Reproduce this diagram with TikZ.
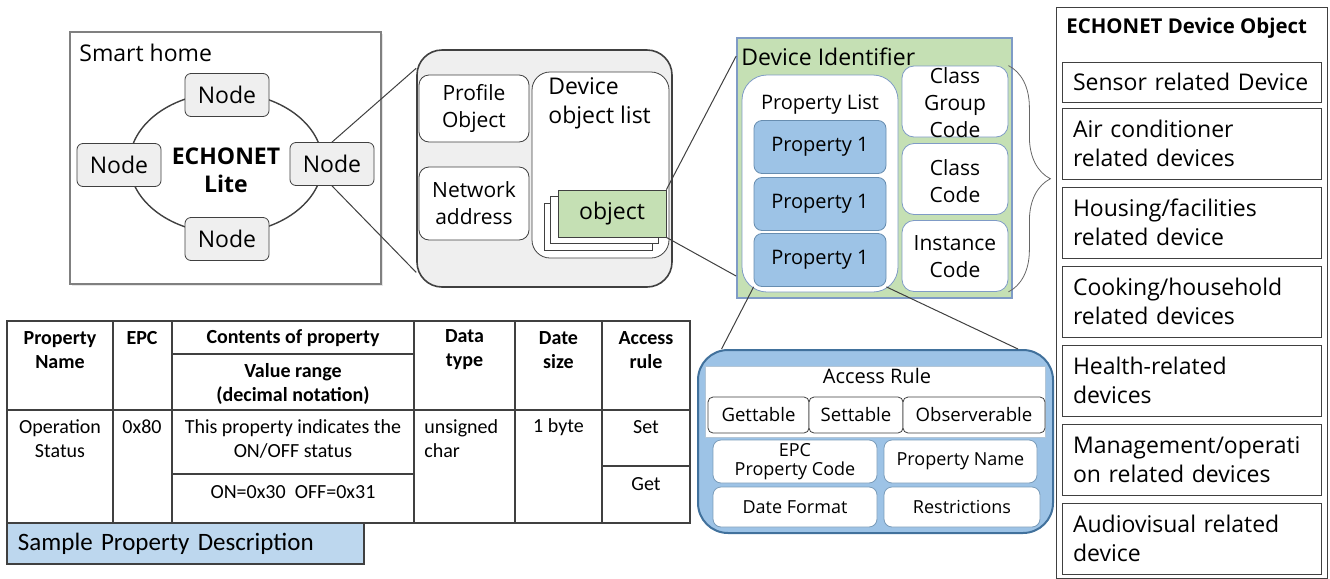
\documentclass[tikz,border=0pt]{standalone}
\usepackage{fontspec}
\setmainfont{Open Sans}
\newfontfamily\tabfont{Carlito}
\usepackage{tikz}
\usetikzlibrary{shapes.geometric}
\usetikzlibrary{decorations.pathreplacing}
\usetikzlibrary{shadows}

\definecolor{boxgray}{HTML}{EFEFEF}
\definecolor{linegray}{HTML}{404040}
\definecolor{leafgreen}{HTML}{C5E0B4}
\definecolor{skyblue}{HTML}{9DC3E6}
\definecolor{paleblue}{HTML}{BDD7EE}
\definecolor{deepblue}{HTML}{41719C}
\definecolor{slateblue}{HTML}{7F9BC6}

\tikzset{hub/.style={rectangle,rounded corners=3pt,draw=linegray,fill=boxgray,minimum width=42pt,minimum height=21.5pt,font=\fontsize{11.5}{14}\selectfont}}
\tikzset{obox/.style={rectangle,rounded corners=5pt,draw=linegray,fill=white,align=center,font=\fontsize{10.5}{13.5}\selectfont}}
\tikzset{sheet/.style={rectangle,draw=linegray,fill=white,minimum width=54pt,minimum height=23.5pt,font=\fontsize{11.5}{14}\selectfont}}
\tikzset{propbox/.style={rectangle,rounded corners=4pt,draw=deepblue!80,fill=skyblue,minimum width=66pt,minimum height=26.5pt,font=\fontsize{10}{12}\selectfont}}
\tikzset{codebox/.style={rectangle,rounded corners=6pt,draw=slateblue,fill=white,minimum width=53pt,minimum height=35.5pt}}
\tikzset{codetext/.style={align=center,inner sep=0pt,font=\fontsize{10.5}{13.5}\selectfont}}
\tikzset{flag/.style={rectangle,rounded corners=2.5pt,draw=linegray,fill=white,minimum height=18pt,font=\fontsize{9.3}{11}\selectfont}}
\tikzset{field/.style={rectangle,rounded corners=4pt,draw=deepblue!70,fill=white,inner ysep=1pt,align=center,font=\fontsize{9}{9.5}\selectfont}}
\tikzset{cat/.style={rectangle,draw=linegray,fill=white,text width=118.5pt,inner xsep=5.5pt,align=left,font=\fontsize{11.5}{14.5}\selectfont}}
\tikzset{tcell/.style={align=center,inner sep=0pt,font=\tabfont\fontsize{10}{12}\selectfont}}
\tikzset{thead/.style={tcell,font=\tabfont\bfseries\fontsize{10}{12}\selectfont}}
\tikzset{grid/.style={draw=linegray,line width=0.8pt}}
\tikzset{link/.style={draw=linegray,line width=0.5pt}}

\begin{document}
\begin{tikzpicture}[x=0.5pt,y=-0.5pt]
\useasboundingbox (0,0) rectangle (1330,579);

% smart home with its ring of nodes
\node[rectangle,draw=gray,line width=0.8pt,fill=white,minimum width=155.5pt,minimum height=126pt,drop shadow={opacity=0.2,shadow xshift=1pt,shadow yshift=-1pt}] (home) at (225.5,158) {};
\node[anchor=west,inner sep=0pt,font=\fontsize{11.5}{14}\selectfont] (homet) at (79,53) {Smart home};
\node[ellipse,draw=linegray,line width=0.7pt,minimum width=96.5pt,minimum height=70.5pt,inner sep=0pt] (ring) at (226,163) {};
\node[align=center,font=\bfseries\fontsize{11.5}{14}\selectfont] (core) at (226,170) {ECHONET\\Lite};

\node[hub] (nT) at (227,95) {Node};
\node[hub] (nL) at (119,165) {Node};
\node[hub] (nR) at (332,164) {Node};
\node[hub] (nB) at (227,239) {Node};

% node internals
\node[rectangle,rounded corners=12.5pt,draw=linegray,line width=0.8pt,fill=boxgray,minimum width=127.5pt,minimum height=118.5pt] (dev) at (544.5,168.5) {};
\node[obox,minimum width=55pt,minimum height=33.5pt] (prof) at (474,108.5) {Profile\\Object};
\node[obox,minimum width=55pt,minimum height=36.5pt] (net) at (474,203.5) {Network\\address};
\node[rectangle,rounded corners=9pt,draw=linegray,fill=white,minimum width=68.5pt,minimum height=93pt] (olist) at (600.5,165) {};
\node[anchor=north west,inner sep=0pt,align=left,font=\fontsize{11.5}{14.5}\selectfont] (olistt) at (548,77) {Device\\object list};

\node[sheet] (s3) at (598,226.5) {};
\node[sheet] (s2) at (604,220) {};
\node[sheet,fill=leafgreen] (obj) at (612,213.5) {object};

\draw[link] (nR.north) -- (dev.142);
\draw[link] (nR.south) -- (dev.219);

% device identifier
\node[rectangle,draw=slateblue,line width=0.8pt,fill=leafgreen,minimum width=137.5pt,minimum height=130pt] (devid) at (874.5,168) {};
\node[anchor=west,inner sep=0pt,font=\fontsize{11.5}{14}\selectfont] (devidt) at (741,57) {Device Identifier};
\node[rectangle,rounded corners=12.5pt,draw=slateblue,fill=white,minimum width=78pt,minimum height=108.5pt] (plist) at (820,183.5) {};
\node[inner sep=0pt,font=\fontsize{10}{12}\selectfont] (plistt) at (820,105) {Property List};

\node[propbox] (p1) at (820,147) {Property 1};
\node[propbox] (p2) at (820,204) {Property 1};
\node[propbox] (p3) at (820,260) {Property 1};

\node[codebox] (cgc) at (955,101.5) {};
\node[codetext] (cgct) at (955,103) {Class\\Group\\Code};
\node[codebox] (cc) at (955,179) {};
\node[codetext] (cct) at (955,181) {Class\\Code};
\node[codebox] (ic) at (955,256) {};
\node[codetext] (ict) at (955,257) {Instance\\Code};

\draw[decorate,decoration={brace,amplitude=21pt},draw=linegray!80] (cgc.north east) -- (ic.south east);

\draw[link] (obj.north east) -- (devid.141);
\draw[link] (obj.south east) -- (devid.218);

% property details
\node[rectangle,rounded corners=15pt,draw=deepblue,line width=1pt,fill=skyblue,minimum width=177.5pt,minimum height=91.5pt] (acc) at (875.5,441.5) {};
\node[rectangle,draw=deepblue!40,fill=white,minimum width=170pt,minimum height=35.5pt] (rule) at (875,401.5) {};
\node[inner sep=0pt,font=\fontsize{10}{12}\selectfont] (rulet) at (877,376) {Access Rule};
\node[flag,minimum width=50.5pt] (get) at (758.5,415) {Gettable};
\node[flag,minimum width=47pt] (set) at (856,415) {Settable};
\node[flag,minimum width=71pt] (obs) at (974,415) {Observerable};

\node[field,minimum width=82pt,minimum height=21.5pt] (epc) at (795,461.5) {EPC\\Property Code};
\node[field,minimum width=76.5pt,minimum height=21.5pt] (pname) at (960.5,461.5) {Property Name};
\node[field,minimum width=82pt,minimum height=20pt] (dfmt) at (795,507) {Date Format};
\node[field,minimum width=78pt,minimum height=20pt] (rest) at (962,507) {Restrictions};

\draw[link] (p3.south west) -- (acc.149);
\draw[link] (p3.south east) -- (acc.33);

% device object classes
\node[rectangle,draw=linegray,fill=white,minimum width=135.5pt,minimum height=285.5pt] (dobj) at (1191.5,292.5) {};
\node[anchor=west,inner sep=0pt,font=\bfseries\fontsize{10.2}{12}\selectfont] (dobjt) at (1066,28) {ECHONET Device Object};
\node[cat,minimum height=20pt] (sens) at (1191.5,82) {Sensor related Device};
\node[cat,minimum height=35.5pt] (air) at (1191.5,143.5) {Air conditioner\\related devices};
\node[cat,minimum height=35.5pt] (hous) at (1191.5,222.5) {Housing/facilities\\related device};
\node[cat,minimum height=35.5pt] (cook) at (1191.5,301.5) {Cooking/household\\related devices};
\node[cat,minimum height=35.5pt] (heal) at (1191.5,380.5) {Health-related\\devices};
\node[cat,minimum height=35.5pt] (mgmt) at (1191.5,459.5) {Management/operati\\on related devices};
\node[cat,minimum height=35.5pt] (av) at (1191.5,538.5) {Audiovisual related\\device};

% sample property table
\draw[grid] (7,321) rectangle (690,523);
\draw[grid] (113,321) -- (113,523);
\draw[grid] (172,321) -- (172,523);
\draw[grid] (414,321) -- (414,523);
\draw[grid] (515,321) -- (515,523);
\draw[grid] (602,321) -- (602,523);
\draw[grid] (7,410) -- (690,410);
\draw[grid] (172,354) -- (414,354);
\draw[grid] (172,474) -- (414,474);
\draw[grid] (602,466) -- (690,466);

\node[thead] (hname) at (60,350) {Property\\Name};
\node[thead] (hepc) at (142,338) {EPC};
\node[thead] (hcont) at (293,338) {Contents of property};
\node[thead] (hrange) at (293,384) {Value range\\(decimal notation)};
\node[thead] (htype) at (464.5,350) {Data\\type};
\node[thead] (hsize) at (558.5,350) {Date\\size};
\node[thead] (hrule) at (646,350) {Access\\rule};

\node[tcell] (vname) at (60,439) {Operation\\Status};
\node[tcell] (vepc) at (142,427) {0x80};
\node[tcell] (vcont) at (293,439) {This property indicates the\\ON/OFF status};
\node[tcell] (vrange) at (293,492) {ON=0x30~~OFF=0x31};
\node[tcell,anchor=west,align=left] (vtype) at (424,439) {unsigned\\char};
\node[tcell] (vsize) at (558.5,427) {1 byte};
\node[tcell] (vset) at (646,427) {Set};
\node[tcell] (vget) at (646,484) {Get};

\node[rectangle,draw=linegray,line width=0.8pt,fill=paleblue,text width=167.5pt,inner xsep=5.5pt,minimum height=20.5pt,align=left,font=\tabfont\fontsize{12.5}{14}\selectfont] (sample) at (185.5,543.5) {Sample Property Description};

\end{tikzpicture}
\end{document}
